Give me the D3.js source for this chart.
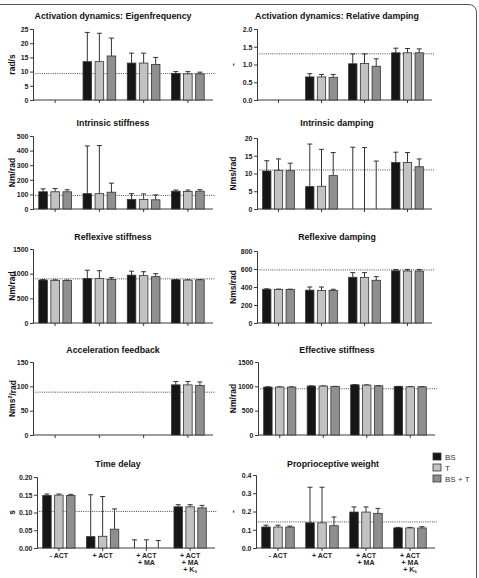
<!DOCTYPE html>
<html><head><meta charset="utf-8">
<script src="https://cdn.jsdelivr.net/npm/d3@7"></script>
<style>body{margin:0;background:#fff}svg{display:block;font-family:"Liberation Sans",Arial,sans-serif}</style>
</head><body><svg id="c" width="479" height="578"></svg>
<script>
// ---------- data ----------
const categories = ["- ACT", "+ ACT", "+ ACT|+ MA", "+ ACT|+ MA|+ K_s"];
const seriesNames = ["BS", "T", "BS + T"];

const titles = ["Activation dynamics: Eigenfrequency", "Activation dynamics: Relative damping",
  "Intrinsic stiffness", "Intrinsic damping", "Reflexive stiffness", "Reflexive damping",
  "Acceleration feedback", "Effective stiffness", "Time delay", "Proprioceptive weight"];
const units = ["rad/s", "-", "Nm/rad", "Nms/rad", "Nm/rad", "Nms/rad", "Nms²/rad", "Nm/rad", "s", "-"];
const yMax = [25, 2.0, 500, 20, 1500, 800, 150, 1500, 0.20, 0.4];
const yStep = [5, 0.5, 100, 5, 500, 200, 50, 500, 0.05, 0.1];
const yFmt = ["d", ".1f", "d", "d", "d", "d", "d", "d", ".2f", ".1f"];
const refValues = [9.3, 1.3, 93, 11, 895, 590, 88, 950, 0.103, 0.143];

// means[panel][series][group]; null = no bar
const means = [
  [[null, 13.5, 13.0, 9.3], [null, 13.5, 13.0, 9.2], [null, 15.5, 12.5, 9.2]],
  [[null, 0.65, 1.02, 1.33], [null, 0.65, 1.03, 1.33], [null, 0.64, 0.95, 1.33]],
  [[118, 105, 65, 122], [118, 105, 65, 120], [118, 115, 63, 122]],
  [[10.7, 6.3, 0, 13.1], [10.9, 6.4, 0, 13.1], [10.8, 9.4, 0, 11.9]],
  [[870, 900, 970, 875], [865, 900, 960, 870], [860, 880, 940, 875]],
  [[375, 365, 508, 580], [372, 362, 506, 578], [372, 362, 475, 578]],
  [[null, null, null, 103], [null, null, null, 103], [null, null, null, 102]],
  [[985, 1005, 1030, 995], [985, 1005, 1025, 990], [985, 995, 1010, 990]],
  [[0.148, 0.032, 0, 0.116], [0.149, 0.033, 0, 0.116], [0.148, 0.053, 0, 0.113]],
  [[0.115, 0.138, 0.197, 0.110], [0.115, 0.138, 0.197, 0.110], [0.115, 0.122, 0.190, 0.110]]
];
// upper end of the error bars
const errTops = [
  [[null, 23.8, 16.5, 10.0], [null, 23.5, 16.5, 10.0], [null, 21.8, 15.0, 9.8]],
  [[null, 0.74, 1.30, 1.46], [null, 0.72, 1.30, 1.45], [null, 0.72, 1.16, 1.44]],
  [[138, 432, 105, 130], [140, 435, 103, 130], [132, 177, 97, 132]],
  [[13.6, 18.3, 17.4, 16.0], [14.1, 16.8, 17.3, 15.9], [12.9, 15.9, 13.5, 14.1]],
  [[880, 1070, 1050, 880], [875, 1060, 1040, 875], [870, 920, 1000, 880]],
  [[380, 400, 560, 595], [377, 400, 560, 595], [376, 375, 515, 595]],
  [[null, null, null, 110], [null, null, null, 110], [null, null, null, 109]],
  [[990, 1010, 1035, 1000], [990, 1010, 1030, 995], [990, 1000, 1015, 995]],
  [[0.152, 0.150, 0.023, 0.122], [0.152, 0.145, 0.023, 0.122], [0.151, 0.110, 0.021, 0.120]],
  [[0.125, 0.333, 0.225, 0.113], [0.125, 0.333, 0.225, 0.113], [0.120, 0.170, 0.217, 0.117]]
];

// ---------- layout (pixels) ----------
const layout = [
  {x0: 33, x1: 210, yb: 100, yt: 29, ty: 19, tx: 113, lx: 12},
  {x0: 257, x1: 429, yb: 100, yt: 29, ty: 19, tx: 337, lx: 233},
  {x0: 33, x1: 210, yb: 209, yt: 136, ty: 126, tx: 113, lx: 12},
  {x0: 257, x1: 429, yb: 209, yt: 138, ty: 126, tx: 337, lx: 233},
  {x0: 33, x1: 210, yb: 323, yt: 249, ty: 240, tx: 113, lx: 12},
  {x0: 257, x1: 429, yb: 323, yt: 251, ty: 240, tx: 337, lx: 233},
  {x0: 33, x1: 210, yb: 435, yt: 362, ty: 353, tx: 113, lx: 12},
  {x0: 258, x1: 432, yb: 435, yt: 362, ty: 353, tx: 337, lx: 233},
  {x0: 37, x1: 212, yb: 548, yt: 477, ty: 467, tx: 118, lx: 12},
  {x0: 256, x1: 432, yb: 548, yt: 475, ty: 467, tx: 333, lx: 233}
];
const colors = ["#161616", "#c2c2c2", "#8f8f8f"];
const axisColor = "#3a3a3a";

const svg = d3.select("#c");

// frame
svg.append("path").attr("d", "M0,4.5 H468 Q476.5,4.5 476.5,13 V578")
  .attr("fill", "none").attr("stroke", "#555").attr("stroke-width", 1);

layout.forEach((L, p) => {
  const g = svg.append("g");
  const x0 = d3.scaleBand().domain(categories).range([L.x0, L.x1]).padding(0);
  const x1 = d3.scaleBand().domain(seriesNames).range([0, x0.bandwidth()])
    .paddingInner(0.29).paddingOuter(0.48);
  const y = d3.scaleLinear().domain([0, yMax[p]]).range([L.yb, L.yt]);

  // title
  g.append("text").attr("x", L.tx).attr("y", L.ty).attr("text-anchor", "middle")
    .attr("font-size", 8.8).attr("font-weight", "bold").attr("fill", "#111").text(titles[p]);

  // y-axis label
  const ylab = g.append("text").attr("transform", `translate(${L.lx},${(L.yb + L.yt) / 2}) rotate(-90)`)
    .attr("text-anchor", "middle").attr("dy", "0.35em").attr("font-size", 8.5).attr("font-weight", "bold").attr("fill", "#111");
  const u = units[p];
  if (u.includes("²")) {
    const parts = u.split("²");
    ylab.append("tspan").text(parts[0]);
    ylab.append("tspan").attr("font-size", 5.5).attr("dy", "-0.6em").text("2");
    ylab.append("tspan").attr("dy", "0.45em").text(parts[1]);
  } else ylab.text(u);

  // y axis
  const ticks = d3.range(0, yMax[p] + yStep[p] / 2, yStep[p]);
  const ya = d3.axisLeft(y).tickValues(ticks).tickFormat(d3.format(yFmt[p])).tickSize(3).tickPadding(1.5);
  const yg = g.append("g").attr("transform", `translate(${L.x0},0)`).call(ya);
  yg.select(".domain").attr("stroke", axisColor);
  yg.selectAll(".tick line").attr("stroke", axisColor);
  yg.selectAll("text").attr("font-size", 7).attr("font-weight", "bold").attr("fill", "#222")
    .attr("font-family", "Liberation Sans, Arial, sans-serif");

  // x axis
  const xa = d3.axisBottom(x0).tickSize(3).tickFormat("");
  const xg = g.append("g").attr("transform", `translate(0,${L.yb})`).call(xa);
  xg.select(".domain").attr("stroke", axisColor).attr("d", `M${L.x0},0H${L.x1 + 3}`);
  xg.selectAll(".tick line").attr("stroke", axisColor);

  // reference line
  g.append("line").attr("x1", L.x0).attr("x2", L.x1 + 5).attr("y1", y(refValues[p])).attr("y2", y(refValues[p]))
    .attr("stroke", "#333").attr("stroke-width", 0.9).attr("stroke-dasharray", "1,1.2");

  // bars + error bars
  categories.forEach((c, gi) => {
    seriesNames.forEach((s, si) => {
      const m = means[p][si][gi];
      if (m === null) return;
      const bx = x0(c) + x1(s), bw = x1.bandwidth(), cx = bx + bw / 2;
      const e = errTops[p][si][gi];
      if (e !== null) {
        g.append("line").attr("x1", cx).attr("x2", cx).attr("y1", y(m)).attr("y2", y(e))
          .attr("stroke", "#333").attr("stroke-width", 1);
        g.append("line").attr("x1", cx - 2.5).attr("x2", cx + 2.5).attr("y1", y(e)).attr("y2", y(e))
          .attr("stroke", "#333").attr("stroke-width", 1);
      }
      if (m > 0) {
        g.append("rect").attr("x", bx).attr("y", y(m)).attr("width", bw).attr("height", y(0) - y(m))
          .attr("fill", colors[si]).attr("stroke", "#333").attr("stroke-width", 0.8);
      }
    });
  });

  // category labels on bottom row
  if (p >= 8) {
    categories.forEach(c => {
      const lines = c.split("|");
      lines.forEach((ln, li) => {
        const t = g.append("text").attr("x", x0(c) + x0.bandwidth() / 2).attr("y", L.yb + 9.5 + li * 7)
          .attr("text-anchor", "middle").attr("font-size", 7).attr("font-weight", "bold").attr("fill", "#222");
        if (ln.includes("_")) {
          const [a, b] = ln.split("_");
          t.append("tspan").text(a);
          t.append("tspan").attr("font-size", 4.5).attr("dy", "0.35em").text(b);
        } else t.text(ln);
      });
    });
  }
});

// legend
const lg = svg.append("g");
seriesNames.forEach((s, i) => {
  const yy = [453, 464, 475][i];
  lg.append("rect").attr("x", 433).attr("y", yy).attr("width", 8).attr("height", 7)
    .attr("fill", colors[i]).attr("stroke", "#333").attr("stroke-width", 0.8);
  lg.append("text").attr("x", 445).attr("y", yy + 6.5).attr("font-size", 8).attr("fill", "#333").text(s);
});
</script></body></html>
